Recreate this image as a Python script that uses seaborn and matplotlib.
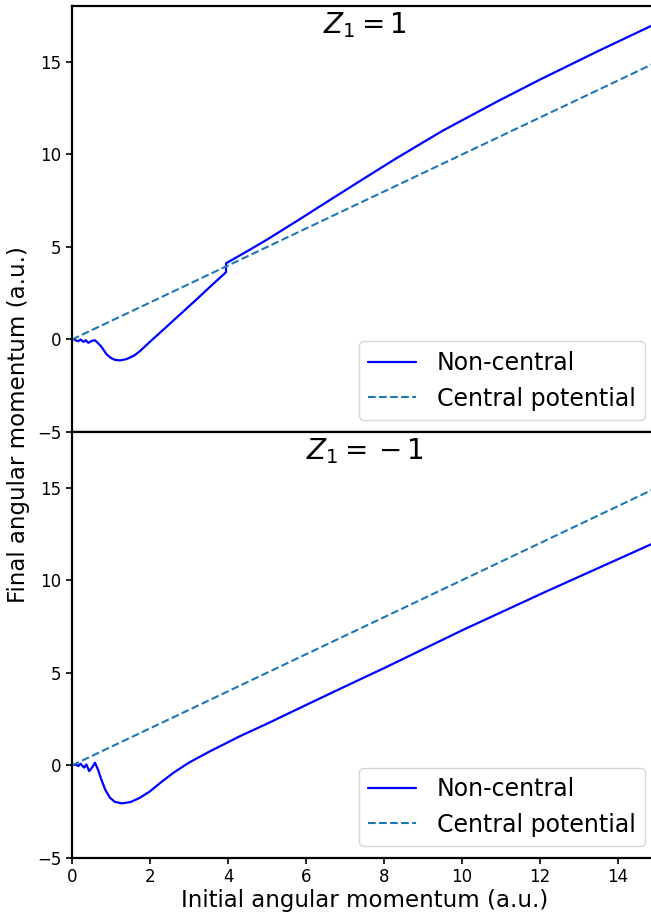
import matplotlib
matplotlib.use("Agg")
import matplotlib.pyplot as plt
import seaborn as sns
import pandas as pd

# ---- data ----
top_x = [0.0, 0.05, 0.1, 0.16, 0.22, 0.29, 0.35, 0.42, 0.5, 0.59, 0.67, 0.75, 0.89, 1.0, 1.1,
         1.23, 1.4, 1.6, 1.74, 2.0, 2.3, 2.68, 3.2, 3.54, 3.95, 3.95, 4.5, 5.0, 5.8, 6.62,
         7.5, 8.32, 9.5, 10.89, 12.0, 13.5, 15.0]
top_y = [0.0, 0.02, -0.05, -0.09, 0.0, -0.13, -0.04, -0.18, -0.08, -0.04, -0.2, -0.38, -0.81,
         -1.0, -1.1, -1.13, -1.06, -0.86, -0.63, -0.12, 0.45, 1.18, 2.18, 2.85, 3.64, 4.12,
         4.78, 5.40, 6.45, 7.55, 8.72, 9.80, 11.28, 12.85, 14.05, 15.6, 17.1]

bot_x = [0.0, 0.05, 0.1, 0.16, 0.22, 0.31, 0.37, 0.44, 0.52, 0.59, 0.67, 0.75, 0.85, 0.97,
         1.1, 1.27, 1.5, 1.74, 2.0, 2.26, 2.6, 3.0, 3.5, 4.31, 5.0, 6.02, 7.0, 8.0, 10.03,
         12.17, 15.0]
bot_y = [0.0, 0.03, 0.05, -0.04, 0.09, -0.12, 0.05, -0.31, -0.1, 0.14, -0.25, -0.75, -1.3,
         -1.74, -1.97, -2.05, -1.98, -1.75, -1.40, -0.95, -0.40, 0.15, 0.72, 1.58, 2.25,
         3.28, 4.26, 5.25, 7.32, 9.4, 12.08]

central_x = [0.0, 15.0]
central_y = [0.0, 15.0]

titles = [r"$Z_1 = 1$", r"$Z_1 = {}-1$"]
y_ticks = [-5, 0, 5, 10, 15]
x_ticks = [0, 2, 4, 6, 8, 10, 12, 14]

sns.set_style("ticks")
plt.rcParams['font.family'] = ['DejaVu Sans']
plt.rcParams['text.color'] = 'black'
plt.rcParams['axes.labelcolor'] = 'black'

fig = plt.figure(figsize=(6.51, 9.17), dpi=100)
W, H = 651, 917
left = 72 / W
width = 585 / W
ax1 = fig.add_axes([left, 1 - 432 / H, width, 425.5 / H])
ax2 = fig.add_axes([left, 1 - 858 / H, width, 426 / H], sharex=ax1)

series = [(ax1, top_x, top_y, titles[0]), (ax2, bot_x, bot_y, titles[1])]
for ax, xs, ys, title in series:
    df = pd.DataFrame({"x": xs, "y": ys})
    dc = pd.DataFrame({"x": central_x, "y": central_y})
    sns.lineplot(data=df, x="x", y="y", ax=ax, color="blue", lw=1.6,
                 estimator=None, sort=False, label="Non-central")
    sns.lineplot(data=dc, x="x", y="y", ax=ax, color="#1f77b4", lw=1.5,
                 linestyle="--", estimator=None, sort=False, label="Central potential")
    ax.set_xlim(0, 15)
    ax.set_ylim(-5, 18)
    ax.set_yticks(y_ticks)
    ax.set_xlabel("")
    ax.set_ylabel("")
    ax.tick_params(labelsize=12, width=1.2, length=4, colors="black")
    for s in ax.spines.values():
        s.set_linewidth(1.6)
        s.set_color("black")
    leg = ax.legend(loc="lower right", fontsize=17, handlelength=2.0, handletextpad=0.9)
    for t in leg.get_texts():
        t.set_color("black")
    ax.text(0.5, 1 - 4 / 425, title, transform=ax.transAxes, ha="center", va="top",
            fontsize=20, color="black")

ax1.tick_params(labelbottom=False)
ax2.set_xticks(x_ticks)
ax2.set_xlabel("Initial angular momentum (a.u.)", fontsize=16.5, labelpad=2, color="black")
fig.text(19 / W, 1 - 425 / H, "Final angular momentum (a.u.)", rotation=90,
         ha="center", va="center", fontsize=16.5, color="black")

fig.savefig("out.png", dpi=100)
